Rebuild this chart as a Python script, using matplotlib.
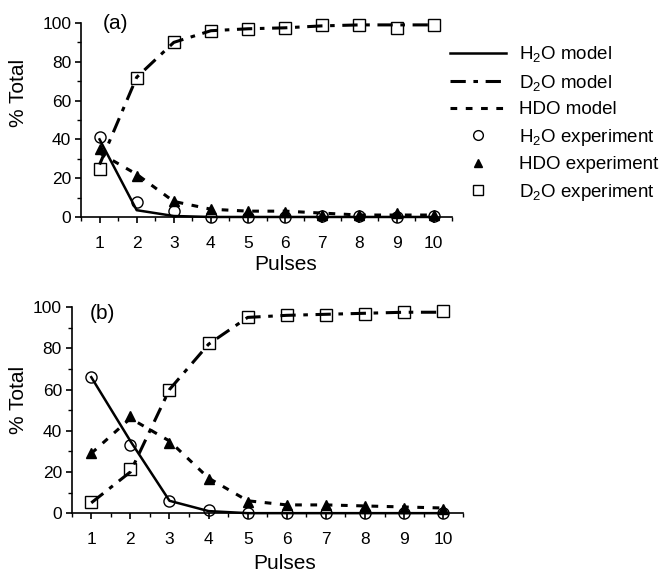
import matplotlib
matplotlib.use('Agg')
import matplotlib.pyplot as plt
from matplotlib.ticker import MultipleLocator
from matplotlib.lines import Line2D

plt.rcParams['font.family'] = ['Liberation Sans', 'DejaVu Sans']
plt.rcParams['mathtext.fontset'] = 'custom'
plt.rcParams['mathtext.rm'] = 'Liberation Sans'
plt.rcParams['mathtext.it'] = 'Liberation Sans'

pulses = [1, 2, 3, 4, 5, 6, 7, 8, 9, 10]

# panel (a)
a_h2o_model = [40, 3.5, 0.5, 0, 0, 0, 0, 0, 0, 0]
a_d2o_model = [27, 72, 90, 96, 97, 97.5, 98.5, 99, 99, 99]
a_hdo_model = [33, 22, 8, 4, 3, 3, 2, 1, 1, 1]
a_h2o_exp = [41, 7.5, 3, 0, 0, 0, 0.5, 0.5, 0, 0.5]
a_hdo_exp = [35, 21, 8, 4, 3, 2.5, 1, 1, 2, 1]
a_d2o_exp = [24.5, 71.5, 90, 96, 97, 97.5, 99, 99, 97.5, 99]

# panel (b)
b_h2o_model = [66, 35, 6, 1, 0, 0, 0, 0, 0, 0]
b_d2o_model = [5, 20, 60, 82, 95, 96, 96.5, 97, 97.5, 97.5]
b_hdo_model = [29, 46, 35, 17, 6, 4, 4, 3.5, 3, 2.5]
b_h2o_exp = [66, 33, 6, 1.5, 0, 0, 0, 0, 0, 0]
b_hdo_exp = [29, 47, 34, 16.5, 5.5, 4, 4, 3.5, 2.5, 2]
b_d2o_exp = [5.5, 21.5, 60, 82.5, 95, 96, 96, 96.5, 97.5, 98]

d2o_dash = (0, (5, 2.5, 1.5, 2.5))
hdo_dash = (0, (2.2, 2.8))

fig = plt.figure(figsize=(6.64, 5.74), dpi=100)
ax1 = fig.add_axes([0.122, 0.622, 0.559, 0.338])
ax2 = fig.add_axes([0.108, 0.106, 0.589, 0.359])


def draw(ax, h2o_m, d2o_m, hdo_m, h2o_e, hdo_e, d2o_e):
    ax.plot(pulses, h2o_m, color='black', lw=1.8, clip_on=False)
    ax.plot(pulses, d2o_m, color='black', lw=2.2, linestyle=d2o_dash, clip_on=False)
    ax.plot(pulses, hdo_m, color='black', lw=2.2, linestyle=hdo_dash, clip_on=False)
    ax.plot(pulses, h2o_e, 'o', mfc='none', mec='black', ms=8, mew=1.0, clip_on=False)
    ax.plot(pulses, hdo_e, '^', color='black', ms=7, clip_on=False)
    ax.plot(pulses, d2o_e, 's', mfc='none', mec='black', ms=8, mew=1.0, clip_on=False)
    ax.set_xlim(0.5, 10.5)
    ax.set_ylim(0, 100)
    ax.xaxis.set_major_locator(MultipleLocator(1))
    ax.xaxis.set_minor_locator(MultipleLocator(0.5))
    ax.yaxis.set_major_locator(MultipleLocator(20))
    ax.yaxis.set_minor_locator(MultipleLocator(10))
    ax.spines['top'].set_visible(False)
    ax.spines['right'].set_visible(False)
    for s in ('left', 'bottom'):
        ax.spines[s].set_linewidth(1.2)
    ax.tick_params(which='major', length=4.5, width=1.2, labelsize=12.5, direction='out')
    ax.tick_params(which='minor', length=3, width=1.0, direction='out')
    ax.tick_params(axis='x', pad=9)
    ax.tick_params(axis='y', pad=2.5)
    ax.set_xlabel('Pulses', fontsize=15)
    ax.set_ylabel('% Total', fontsize=15)


draw(ax1, a_h2o_model, a_d2o_model, a_hdo_model, a_h2o_exp, a_hdo_exp, a_d2o_exp)
draw(ax2, b_h2o_model, b_d2o_model, b_hdo_model, b_h2o_exp, b_hdo_exp, b_d2o_exp)

ax1.yaxis.set_label_coords(-0.143, 0.64)
ax1.xaxis.set_label_coords(0.55, -0.196)
ax2.yaxis.set_label_coords(-0.1125, 0.55)
ax2.xaxis.set_label_coords(0.545, -0.2)
ax1.text(0.092, 0.995, '(a)', transform=ax1.transAxes, fontsize=15, ha='center', va='center')
ax2.text(0.079, 0.97, '(b)', transform=ax2.transAxes, fontsize=15, ha='center', va='center')

handles = [
    Line2D([], [], color='black', lw=1.8),
    Line2D([], [], color='black', lw=2.2, linestyle=d2o_dash),
    Line2D([], [], color='black', lw=2.2, linestyle=hdo_dash),
    Line2D([], [], marker='o', ls='none', mfc='none', mec='black', ms=7),
    Line2D([], [], marker='^', ls='none', color='black', ms=6),
    Line2D([], [], marker='s', ls='none', mfc='none', mec='black', ms=7),
]
labels = ['H$_2$O model', 'D$_2$O model', 'HDO model',
          'H$_2$O experiment', 'HDO experiment', 'D$_2$O experiment']
fig.legend(handles, labels, loc='upper left', bbox_to_anchor=(0.652, 0.952),
           frameon=False, fontsize=13.5, handlelength=3.0, handletextpad=0.7,
           labelspacing=0.45)

fig.savefig('out.png', dpi=100)
